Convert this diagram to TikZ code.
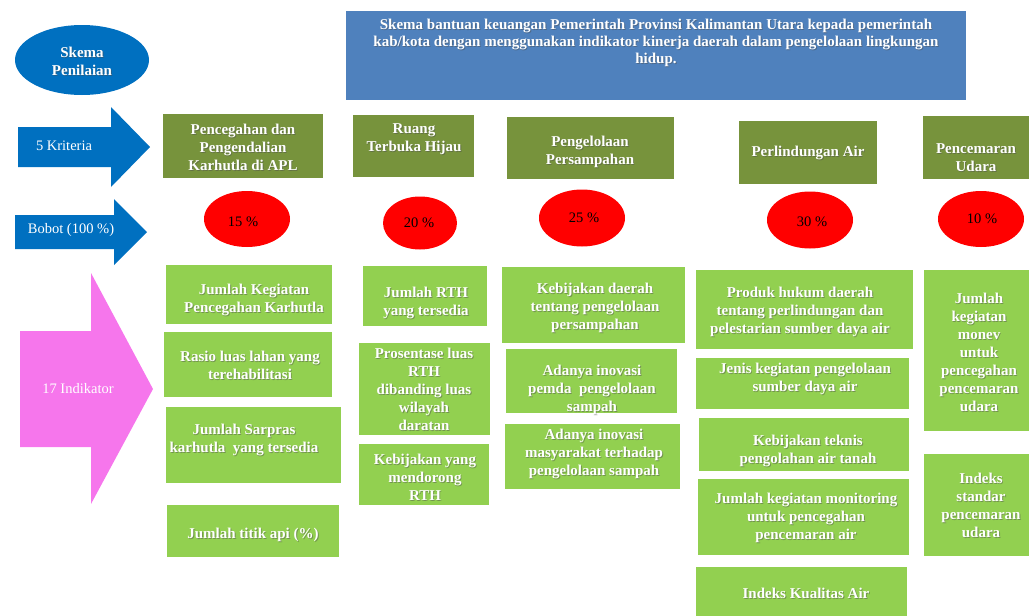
\documentclass[tikz,border=0pt]{standalone}
\usepackage{fontspec}
\setmainfont{Liberation Serif}
\usetikzlibrary{fit,shapes.geometric}
\definecolor{dblue}{HTML}{0070C0}
\definecolor{hblue}{HTML}{4F81BD}
\definecolor{olive}{HTML}{77933C}
\definecolor{lgreen}{HTML}{92D050}
\definecolor{pinkarrow}{RGB}{246,118,236}
\tikzset{
  lbl/.style={text=white, font=\fontsize{15}{18}\selectfont\bfseries, align=center, inner sep=0},
  shd/.style={lbl, text=black!70, opacity=0.45},
  plain/.style={text=white, font=\fontsize{14.5}{18}\selectfont, inner sep=0},
  pct/.style={text=black, font=\fontsize{14.5}{18}\selectfont, inner sep=0},
  ibox/.style={fill=lgreen, inner sep=0},
  cbox/.style={fill=olive, inner sep=0},
  wellipse/.style={ellipse, fill=red, inner sep=0},
}
% name, x1, y1, x2, y2, text centre, text
\newcommand\indbox[7]{%
  \node[ibox, fit={(#2,#3) (#4,#5)}] (#1) {};
  \node[shd] (#1-s) at ([shift={(0.9pt,-0.9pt)}]#6) {#7};
  \node[lbl] (#1-t) at (#6) {#7};
}
\newcommand\critbox[7]{%
  \node[cbox, fit={(#2,#3) (#4,#5)}] (#1) {};
  \node[shd] (#1-s) at ([shift={(0.9pt,-0.9pt)}]#6) {#7};
  \node[lbl] (#1-t) at (#6) {#7};
}
\begin{document}
\begin{tikzpicture}[x=1pt,y=-1pt]
\useasboundingbox (0,0) rectangle (1029,616);

% Skema Penilaian
\node[ellipse, fill=dblue, minimum width=134pt, minimum height=70pt, inner sep=0] (skema) at (82,60) {};
\node[shd] (skema-s) at (82.9,61.9) {Skema\\Penilaian};
\node[lbl] (skema-t) at (82,61) {Skema\\Penilaian};

% header
\node[fill=hblue, inner sep=0, fit={(346,11) (966,100)}] (header) {};
\node[shd, font=\fontsize{15}{17}\selectfont\bfseries] (header-s) at (656.9,43.9) {Skema bantuan keuangan Pemerintah Provinsi Kalimantan Utara kepada pemerintah\\kab/kota dengan menggunakan indikator kinerja daerah dalam pengelolaan lingkungan\\hidup.};
\node[lbl, font=\fontsize{15}{17}\selectfont\bfseries] (header-t) at (656,43) {Skema bantuan keuangan Pemerintah Provinsi Kalimantan Utara kepada pemerintah\\kab/kota dengan menggunakan indikator kinerja daerah dalam pengelolaan lingkungan\\hidup.};

% arrows
\fill[dblue] (18,127) -- (111,127) -- (111,107) -- (150,147) -- (111,187) -- (111,167) -- (18,167) -- cycle;
\node[plain] (krit) at (64,146) {5 Kriteria};
\fill[dblue] (15,215) -- (114,215) -- (114,199) -- (147,232) -- (114,265) -- (114,249) -- (15,249) -- cycle;
\node[plain] (bobot) at (71,230) {Bobot (100 \%)};
\fill[pinkarrow] (20,331) -- (91,331) -- (91,273) -- (153,389) -- (91,504) -- (91,447) -- (20,447) -- cycle;
\node[plain] (indik) at (78,389) {17 Indikator};

% criteria
\critbox{c1}{163}{114}{323}{178}{243,147}{Pencegahan dan\\Pengendalian\\Karhutla di APL}
\critbox{c2}{353}{115}{474}{177}{414,139}{Ruang\\Terbuka Hijau}
\critbox{c3}{507}{117}{674}{179}{590,152}{Pengelolaan\\Persampahan}
\critbox{c4}{739}{121}{877}{184}{808,153}{Perlindungan Air}
\critbox{c5}{923}{116}{1029}{179}{976,158}{Pencemaran\\Udara}

% weights
\node[wellipse, minimum width=86pt, minimum height=56pt] (w1) at (247,219) {};
\node[pct] (w1-t) at (243,222) {15 \%};
\node[wellipse, minimum width=74pt, minimum height=53pt] (w2) at (420,223) {};
\node[pct] (w2-t) at (419,223) {20 \%};
\node[wellipse, minimum width=86pt, minimum height=57pt] (w3) at (582,218) {};
\node[pct] (w3-t) at (584,218) {25 \%};
\node[wellipse, minimum width=86pt, minimum height=57pt] (w4) at (810,220) {};
\node[pct] (w4-t) at (812,222) {30 \%};
\node[wellipse, minimum width=86pt, minimum height=56pt] (w5) at (981,219) {};
\node[pct] (w5-t) at (982,219) {10 \%};

% indicators column 1
\indbox{i11}{166}{265}{332}{324}{254,300}{Jumlah Kegiatan\\Pencegahan Karhutla}
\indbox{i12}{164}{332}{332}{397}{250,365}{Rasio luas lahan yang\\terehabilitasi}
\indbox{i13}{166}{407}{341}{483}{244,440}{Jumlah Sarpras\\karhutla\ \ yang tersedia}
\indbox{i14}{167}{505}{339}{557}{253,535}{Jumlah titik api (\%)}
% column 2
\indbox{i21}{363}{266}{487}{326}{426,303}{Jumlah RTH\\yang tersedia}
\indbox{i22}{359}{343}{490}{435}{424,389}{Prosentase luas\\RTH\\dibanding luas\\wilayah\\daratan}
\indbox{i23}{359}{444}{489}{505}{425,477}{Kebijakan yang\\mendorong\\RTH}
% column 3
\indbox{i31}{502}{267}{685}{343}{595,308}{Kebijakan daerah\\tentang pengelolaan\\persampahan}
\indbox{i32}{506}{349}{677}{413}{592,390}{Adanya inovasi\\pemda\ \ pengelolaan\\sampah}
\indbox{i33}{505}{424}{680}{489}{594,454}{Adanya inovasi\\masyarakat terhadap\\pengelolaan sampah}
% column 4
\indbox{i41}{696}{270}{913}{349}{800,312}{Produk hukum daerah\\tentang perlindungan dan\\pelestarian sumber daya air}
\indbox{i42}{696}{358}{909}{409}{805,379}{Jenis kegiatan pengelolaan\\sumber daya air}
\indbox{i43}{699}{418}{909}{471}{808,451}{Kebijakan teknis\\pengolahan air tanah}
\indbox{i44}{698}{479}{909}{555}{806,518}{Jumlah kegiatan monitoring\\untuk pencegahan\\pencemaran air}
\indbox{i45}{696}{567}{907}{620}{806,593}{Indeks Kualitas Air}
% column 5
\indbox{i51}{924}{270}{1029}{431}{979,352}{Jumlah\\kegiatan\\monev\\untuk\\pencegahan\\pencemaran\\udara}
\indbox{i52}{924}{454}{1029}{556}{981,505}{Indeks\\standar\\pencemaran\\udara}
\end{tikzpicture}
\end{document}
